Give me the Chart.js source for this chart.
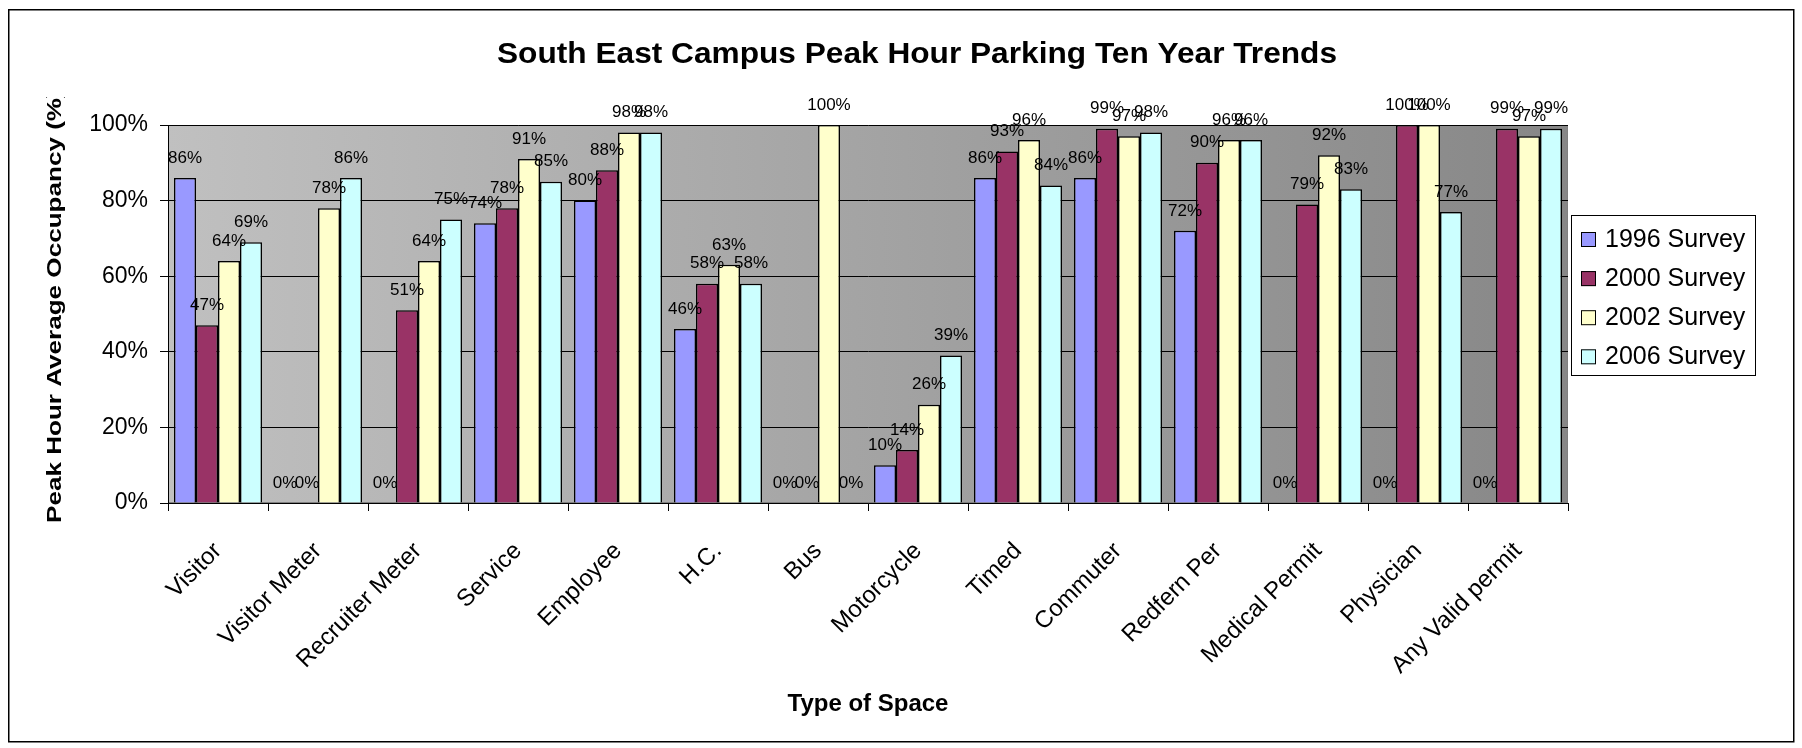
<!DOCTYPE html>
<html>
<head>
<meta charset="utf-8">
<title>South East Campus Peak Hour Parking Ten Year Trends</title>
<script src="https://cdn.jsdelivr.net/npm/chart.js@4.4.1/dist/chart.umd.min.js"></script>
<style>
  html, body { margin: 0; padding: 0; background: #fff; }
  #wrap { width: 1802px; height: 748px; }
</style>
</head>
<body>
<div id="wrap"><canvas id="myChart" width="1802" height="748"></canvas></div>
<script>
const categories = ['Visitor', 'Visitor Meter', 'Recruiter Meter', 'Service', 'Employee', 'H.C.', 'Bus',
  'Motorcycle', 'Timed', 'Commuter', 'Redfern Per', 'Medical Permit', 'Physician', 'Any Valid permit'];
const seriesNames = ['1996 Survey', '2000 Survey', '2002 Survey', '2006 Survey'];
const survey1996 = [86, 0, 0, 74, 80, 46, 0, 10, 86, 86, 72, 0, 0, 0];
const survey2000 = [47, 0, 51, 78, 88, 58, 0, 14, 93, 99, 90, 79, 100, 99];
const survey2002 = [64, 78, 64, 91, 98, 63, 100, 26, 96, 97, 96, 92, 100, 97];
const survey2006 = [69, 86, 75, 85, 98, 58, 0, 39, 84, 98, 96, 83, 77, 99];
const seriesColors = ['#9999FF', '#993366', '#FFFFCC', '#CCFFFF'];
const yTickStep = 20;
const yMax = 100;

const FONT = '"Liberation Sans", Arial, sans-serif';
Chart.defaults.font.family = FONT;
Chart.defaults.color = '#000';

const ctx = document.getElementById('myChart');

// horizontal scale factor that makes text span a given length
function fitText(c, text, width) {
  const w = c.measureText(text).width;
  return width / w;
}

const decorations = {
  id: 'decorations',
  beforeDraw(chart) {
    const c = chart.ctx;
    const a = chart.chartArea;
    c.save();
    c.fillStyle = '#fff';
    c.fillRect(0, 0, chart.width, chart.height);
    const g = c.createLinearGradient(a.left, 0, a.right, 0);
    g.addColorStop(0, '#C0C0C0');
    g.addColorStop(1, '#878787');
    c.fillStyle = g;
    c.fillRect(a.left, a.top, a.right - a.left, a.bottom - a.top);
    c.strokeStyle = '#808080';
    c.lineWidth = 1;
    c.strokeRect(a.left + 0.5, a.top + 0.5, a.right - a.left - 1, a.bottom - a.top - 1);
    c.restore();
  },
  afterDatasetsDraw(chart) {
    const c = chart.ctx;
    c.save();
    c.font = '17px ' + FONT;
    c.fillStyle = '#000';
    c.textAlign = 'center';
    c.textBaseline = 'middle';
    chart.data.datasets.forEach((ds, i) => {
      chart.getDatasetMeta(i).data.forEach((bar, j) => {
        c.fillText(ds.data[j] + '%', bar.x, bar.y - 20);
      });
    });
    c.restore();
  },
  afterDraw(chart) {
    const c = chart.ctx;
    c.save();

    // chart title
    c.fillStyle = '#000';
    c.font = 'bold 29px ' + FONT;
    const title = 'South East Campus Peak Hour Parking Ten Year Trends';
    let sx = fitText(c, title, 840);
    c.save();
    c.translate(917, 63);
    c.scale(sx, 1);
    c.textAlign = 'center';
    c.textBaseline = 'alphabetic';
    c.fillText(title, 0, 0);
    c.restore();

    // y axis title, runs past the top and gets cut off
    c.font = 'bold 20px ' + FONT;
    const yTitle = 'Peak Hour Average Occupancy (%)';
    sx = fitText(c, 'Peak Hour Average Occupancy (%', 425);
    c.save();
    c.beginPath();
    c.rect(0, 97, 160, 700);
    c.clip();
    c.translate(61, 523);
    c.rotate(-Math.PI / 2);
    c.scale(sx, 1);
    c.textAlign = 'left';
    c.textBaseline = 'alphabetic';
    c.fillText(yTitle, 0, 0);
    c.restore();

    // legend
    const lx = 1571, ly = 215, lw = 184, lh = 160;
    c.fillStyle = '#fff';
    c.fillRect(lx, ly, lw, lh);
    c.strokeStyle = '#000';
    c.lineWidth = 1;
    c.strokeRect(lx + 0.5, ly + 0.5, lw, lh);
    c.font = '25px ' + FONT;
    c.textAlign = 'left';
    c.textBaseline = 'middle';
    seriesNames.forEach((name, i) => {
      const cy = 240 + i * 39.1;
      c.fillStyle = seriesColors[i];
      c.fillRect(1581, cy - 8, 15, 15);
      c.strokeStyle = '#000';
      c.strokeRect(1581.5, cy - 7.5, 14, 14);
      c.fillStyle = '#000';
      c.fillText(name, 1605, cy);
    });

    // outer frame
    c.strokeStyle = '#000';
    c.lineWidth = 1.5;
    c.strokeRect(8.75, 9.75, 1785, 732);
    c.restore();
  }
};

new Chart(ctx, {
  type: 'bar',
  data: {
    labels: categories,
    datasets: [survey1996, survey2000, survey2002, survey2006].map((values, i) => ({
      label: seriesNames[i],
      data: values,
      backgroundColor: seriesColors[i],
      borderColor: '#000',
      borderWidth: 1.5,
      barPercentage: 1,
      categoryPercentage: 0.88
    }))
  },
  options: {
    responsive: false,
    animation: false,
    devicePixelRatio: 1,
    layout: {
      padding: { left: 0, right: 234, top: 125, bottom: 0 }
    },
    scales: {
      x: {
        grid: {
          drawOnChartArea: false,
          drawTicks: true,
          tickLength: 8,
          color: '#000',
          offset: true
        },
        border: { color: '#000', width: 1 },
        ticks: {
          autoSkip: false,
          minRotation: 45,
          maxRotation: 45,
          padding: 26,
          color: '#000',
          font: { size: 24 }
        },
        title: {
          display: true,
          text: 'Type of Space',
          color: '#000',
          font: { size: 24, weight: 'bold' },
          padding: { top: 0, bottom: 29 }
        },
        afterFit(scale) {
          scale.height = 245;
        }
      },
      y: {
        min: 0,
        max: yMax,
        ticks: {
          stepSize: yTickStep,
          padding: 12,
          color: '#000',
          font: { size: 23 },
          callback: v => v + '%'
        },
        grid: {
          color: '#000',
          tickLength: 8
        },
        border: { color: '#000', width: 1 },
        afterFit(scale) {
          scale.width = 168;
        }
      }
    },
    plugins: {
      legend: { display: false },
      title: { display: false },
      tooltip: { enabled: false }
    }
  },
  plugins: [decorations]
});
</script>
</body>
</html>
